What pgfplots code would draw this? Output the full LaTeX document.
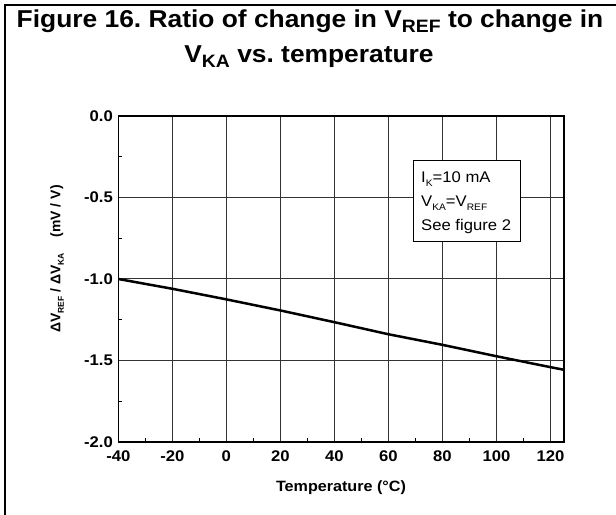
\documentclass[border=0pt]{standalone}
\usepackage{fontspec}
\setmainfont{Liberation Sans}[FakeStretch=1.08]
\newfontfamily\ylabfont{Liberation Sans}
\usepackage{pgfplots}
\pgfplotsset{compat=1.18}
\frenchspacing
\begin{document}
\frenchspacing
\begin{tikzpicture}[x=1bp,y=1bp]
\path[use as bounding box] (0,0) rectangle (616,515);
\draw[line width=2bp] (5,-10) -- (5,510) -- (630,510);
% title
\node[anchor=base, font=\bfseries\fontsize{24.5}{24.5}\selectfont, inner sep=0] at (310,487)
  {Figure 16. Ratio of change in V\raisebox{-5bp}{\fontsize{18}{18}\selectfont REF} to change in};
\node[anchor=base, font=\bfseries\fontsize{24.5}{24.5}\selectfont, inner sep=0] at (309,452)
  {V\raisebox{-5bp}{\fontsize{18}{18}\selectfont KA} vs. temperature};
\begin{axis}[
  at={(118.3bp,73bp)}, anchor=south west,
  width=445.7bp, height=326bp, scale only axis,
  xmin=-40, xmax=125, ymin=-2, ymax=0,
  xtick={-40,-20,...,120}, ytick={-2,-1.5,-1,-0.5,0},
  minor xtick={-30,-10,...,110}, minor ytick={-1.75,-1.25,-0.75,-0.25},
  grid=major,
  major grid style={line width=1bp, color=black!80},
  axis line style={line width=1.3bp},
  major tick length=0pt, minor tick length=4bp,
  minor tick style={line width=1bp, black},
  xtick pos=bottom, ytick pos=left, tick align=inside,
  /pgf/number format/assume math mode=true,
  ticklabel style={font=\bfseries\fontsize{15.5}{15.5}\selectfont},
  xticklabel style={yshift=-5bp},
  yticklabel style={xshift=-2bp},
  yticklabel={\pgfmathprintnumber[fixed,fixed zerofill,precision=1]{\tick}},
  xticklabel={\pgfmathprintnumber[int detect]{\tick}},
]
\addplot[line width=2.5bp, black, no marks] coordinates {
(-40,-1.0) (-20,-1.06) (0,-1.125) (20,-1.193) (40,-1.265) (60,-1.339)
(80,-1.404) (100,-1.474) (120,-1.541) (125,-1.557)};
\end{axis}
% x label
\node[font=\bfseries\fontsize{15}{15}\selectfont] at (341,27) {Temperature (°C)};
% y label
\node[rotate=90, font=\ylabfont\bfseries\fontsize{14}{14}\selectfont, inner sep=0] at (57,256)
  {ΔV\raisebox{-3.5bp}{\fontsize{8.5}{8.5}\selectfont REF} / ΔV\raisebox{-3.5bp}{\fontsize{8.5}{8.5}\selectfont KA}\hspace{16bp}(mV / V)};
% annotation box
\draw[line width=1bp, fill=white] (413,354) rectangle (520,273);
\begin{scope}[every node/.style={anchor=base west, inner sep=0, font=\fontsize{15.5}{15.5}\selectfont}]
\node at (421,332) {I\raisebox{-4bp}{\fontsize{9.5}{9.5}\selectfont K}=10 mA};
\node at (421,308) {V\raisebox{-4bp}{\fontsize{9.5}{9.5}\selectfont KA}=V\raisebox{-4bp}{\fontsize{9.5}{9.5}\selectfont REF}};
\node at (421,284) {See figure 2};
\end{scope}
\end{tikzpicture}
\end{document}
